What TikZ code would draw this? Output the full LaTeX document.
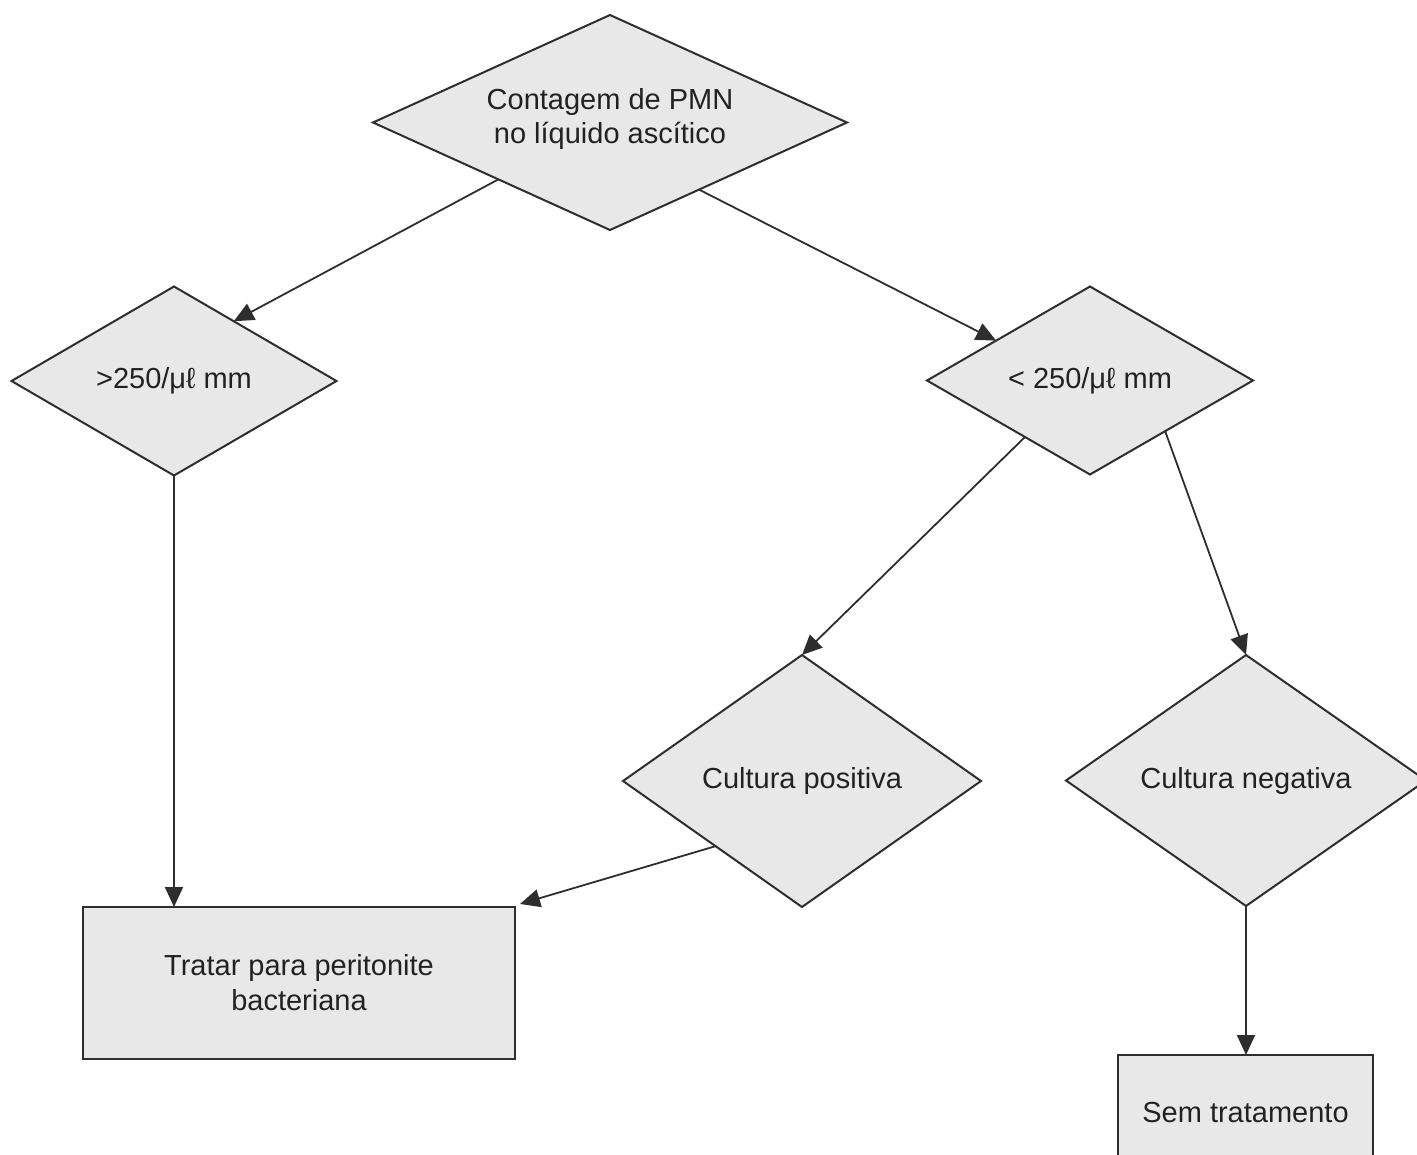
\documentclass[tikz,border=0pt]{standalone}
\usepackage{fontspec}
\setmainfont{Liberation Sans}
\usetikzlibrary{shapes.geometric,arrows.meta,calc}
\definecolor{boxfill}{HTML}{E8E8E8}
\definecolor{linecol}{HTML}{2E2E2E}
\definecolor{ink}{HTML}{222222}
\begin{document}
\begin{tikzpicture}[x=1pt,y=-1pt,
  every node/.style={font=\fontsize{29}{35}\selectfont, text=ink},
  decision/.style={diamond, draw=linecol, fill=boxfill, line width=2pt,
    inner sep=0pt, outer sep=0pt, align=center},
  action/.style={rectangle, draw=linecol, fill=boxfill, line width=2.2pt,
    inner sep=0pt, outer sep=0pt, align=center},
  link/.style={draw=linecol, line width=1.8pt,
    -{Triangle[length=20pt,width=18pt]}}]
\useasboundingbox (0,0) rectangle (1417,1155);
\clip (0,0) rectangle (1417,1155);

% decisions (the two-line label sits a little above the centre)
\node[decision, minimum width=474pt, minimum height=215pt, aspect=2.2]
  (pmn) at (610,122.5)
  {\raisebox{-3pt}[0pt][0pt]{\begin{tabular}{@{}c@{}}Contagem de PMN\\[-1pt]no líquido ascítico\end{tabular}}};
\node[decision, minimum width=325pt, minimum height=189pt, aspect=1.72]
  (hi) at (174,381) {>250/μℓ mm};
\node[decision, minimum width=326pt, minimum height=188pt, aspect=1.73]
  (lo) at (1090,380.5) {< 250/μℓ mm};
\node[decision, minimum width=358pt, minimum height=252pt, aspect=1.42]
  (pos) at (802,781) {Cultura positiva};
\node[decision, minimum width=360pt, minimum height=251pt, aspect=1.43]
  (neg) at (1246,780.5) {Cultura negativa};

% actions
\node[action, minimum width=432pt, minimum height=152pt]
  (tratar) at (299,983) {Tratar para peritonite\\bacteriana};
\node[action, minimum width=255pt, minimum height=115pt]
  (sem) at (1245.5,1112.5) {Sem tratamento};

% connectors
\draw[link] (pmn.207) -- (hi.45);
\draw[link] (pmn.323) -- (lo.157);
\draw[link] (hi.south) -- (hi.south |- tratar.north);
\draw[link] (lo.221) -- (pos.north);
\draw[link] (lo.326) -- (neg.north);
\draw[link] (pos.217) -- ($(tratar.north east)+(5,-3)$);
\draw[link] (neg.south) -- (neg.south |- sem.north);
\end{tikzpicture}
\end{document}
